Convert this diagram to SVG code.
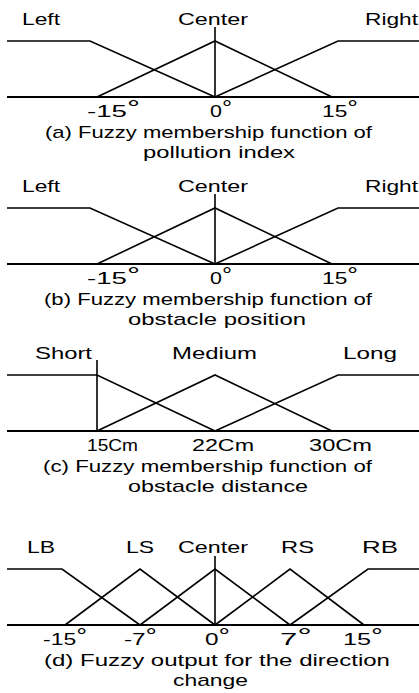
<svg xmlns="http://www.w3.org/2000/svg" width="419" height="693" viewBox="0 0 419 693">
<style>
.t{font-family:"Liberation Sans",Arial,sans-serif;font-size:17px;fill:#000}
.d{font-size:20px;baseline-shift:2px}
.l{fill:none;stroke:#000;stroke-width:1.6;stroke-linejoin:miter}
.ax{fill:none;stroke:#000;stroke-width:2.2}
</style>
<rect width="419" height="693" fill="#fff"/>
<g id="panel-a">
  <g id="a-connectors">
    <line class="ax" x1="7" y1="97" x2="419" y2="97"/>
    <polyline class="l" points="7,41 90,41 215,97"/>
    <polyline class="l" points="97,97 215,41 332,97"/>
    <polyline class="l" points="215,97 338,41 419,41"/>
    <line class="l" x1="215" y1="27" x2="215" y2="97"/>
  </g>
  <text class="t" x="22" y="25" textLength="38" lengthAdjust="spacingAndGlyphs">Left</text>
  <text class="t" x="178" y="25" textLength="70" lengthAdjust="spacingAndGlyphs">Center</text>
  <text class="t" x="365" y="25" textLength="53" lengthAdjust="spacingAndGlyphs">Right</text>
  <text class="t" x="87" y="117" textLength="53" lengthAdjust="spacingAndGlyphs">-15<tspan class="d">°</tspan></text>
  <text class="t" x="210" y="117" textLength="22" lengthAdjust="spacingAndGlyphs">0<tspan class="d">°</tspan></text>
  <text class="t" x="322" y="117" textLength="36" lengthAdjust="spacingAndGlyphs">15<tspan class="d">°</tspan></text>
  <text class="t" x="45" y="138" textLength="327" lengthAdjust="spacingAndGlyphs">(a) Fuzzy membership function of</text>
  <text class="t" x="143" y="158" textLength="152" lengthAdjust="spacingAndGlyphs">pollution index</text>
</g>
<g id="panel-b">
  <g id="b-connectors">
    <line class="ax" x1="7" y1="264" x2="419" y2="264"/>
    <polyline class="l" points="7,208 90,208 215,264"/>
    <polyline class="l" points="97,264 215,208 332,264"/>
    <polyline class="l" points="215,264 338,208 419,208"/>
    <line class="l" x1="215" y1="194" x2="215" y2="264"/>
  </g>
  <text class="t" x="22" y="192" textLength="38" lengthAdjust="spacingAndGlyphs">Left</text>
  <text class="t" x="178" y="192" textLength="70" lengthAdjust="spacingAndGlyphs">Center</text>
  <text class="t" x="365" y="192" textLength="53" lengthAdjust="spacingAndGlyphs">Right</text>
  <text class="t" x="87" y="284" textLength="53" lengthAdjust="spacingAndGlyphs">-15<tspan class="d">°</tspan></text>
  <text class="t" x="210" y="284" textLength="22" lengthAdjust="spacingAndGlyphs">0<tspan class="d">°</tspan></text>
  <text class="t" x="322" y="284" textLength="36" lengthAdjust="spacingAndGlyphs">15<tspan class="d">°</tspan></text>
  <text class="t" x="44" y="305" textLength="328" lengthAdjust="spacingAndGlyphs">(b) Fuzzy membership function of</text>
  <text class="t" x="128" y="325" textLength="178" lengthAdjust="spacingAndGlyphs">obstacle position</text>
</g>
<g id="panel-c">
  <g id="c-connectors">
    <line class="ax" x1="7" y1="431" x2="419" y2="431"/>
    <polyline class="l" points="7,375 97,375 215,431"/>
    <polyline class="l" points="97,431 215,375 332,431"/>
    <polyline class="l" points="215,431 338,375 419,375"/>
    <line class="l" x1="97" y1="360" x2="97" y2="431"/>
  </g>
  <text class="t" x="35" y="359" textLength="57" lengthAdjust="spacingAndGlyphs">Short</text>
  <text class="t" x="172" y="359" textLength="85" lengthAdjust="spacingAndGlyphs">Medium</text>
  <text class="t" x="343" y="359" textLength="54" lengthAdjust="spacingAndGlyphs">Long</text>
  <text class="t" x="87" y="451" textLength="51" lengthAdjust="spacingAndGlyphs">15Cm</text>
  <text class="t" x="192" y="451" textLength="62" lengthAdjust="spacingAndGlyphs">22Cm</text>
  <text class="t" x="309" y="451" textLength="63" lengthAdjust="spacingAndGlyphs">30Cm</text>
  <text class="t" x="43" y="472" textLength="329" lengthAdjust="spacingAndGlyphs">(c) Fuzzy membership function of</text>
  <text class="t" x="128" y="492" textLength="180" lengthAdjust="spacingAndGlyphs">obstacle distance</text>
</g>
<g id="panel-d">
  <g id="d-connectors">
    <line class="ax" x1="7" y1="625" x2="419" y2="625"/>
    <polyline class="l" points="7,569 62,569 140,625"/>
    <polyline class="l" points="65,625 140,569 215,625"/>
    <polyline class="l" points="140,625 215,569 290,625"/>
    <polyline class="l" points="215,625 290,569 364,625"/>
    <polyline class="l" points="290,625 368,569 419,569"/>
    <line class="l" x1="215" y1="556" x2="215" y2="625"/>
  </g>
  <text class="t" x="27" y="553" textLength="28" lengthAdjust="spacingAndGlyphs">LB</text>
  <text class="t" x="126" y="553" textLength="28" lengthAdjust="spacingAndGlyphs">LS</text>
  <text class="t" x="178" y="553" textLength="70" lengthAdjust="spacingAndGlyphs">Center</text>
  <text class="t" x="281" y="553" textLength="33" lengthAdjust="spacingAndGlyphs">RS</text>
  <text class="t" x="362" y="553" textLength="36" lengthAdjust="spacingAndGlyphs">RB</text>
  <text class="t" x="43" y="645" textLength="44" lengthAdjust="spacingAndGlyphs">-15<tspan class="d">°</tspan></text>
  <text class="t" x="124" y="645" textLength="33" lengthAdjust="spacingAndGlyphs">-7<tspan class="d">°</tspan></text>
  <text class="t" x="205" y="645" textLength="25" lengthAdjust="spacingAndGlyphs">0<tspan class="d">°</tspan></text>
  <text class="t" x="280" y="645" textLength="32" lengthAdjust="spacingAndGlyphs">7<tspan class="d">°</tspan></text>
  <text class="t" x="343" y="645" textLength="40" lengthAdjust="spacingAndGlyphs">15<tspan class="d">°</tspan></text>
  <text class="t" x="44" y="666" textLength="346" lengthAdjust="spacingAndGlyphs">(d) Fuzzy output for the direction</text>
  <text class="t" x="173" y="686" textLength="75" lengthAdjust="spacingAndGlyphs">change</text>
</g>
</svg>
